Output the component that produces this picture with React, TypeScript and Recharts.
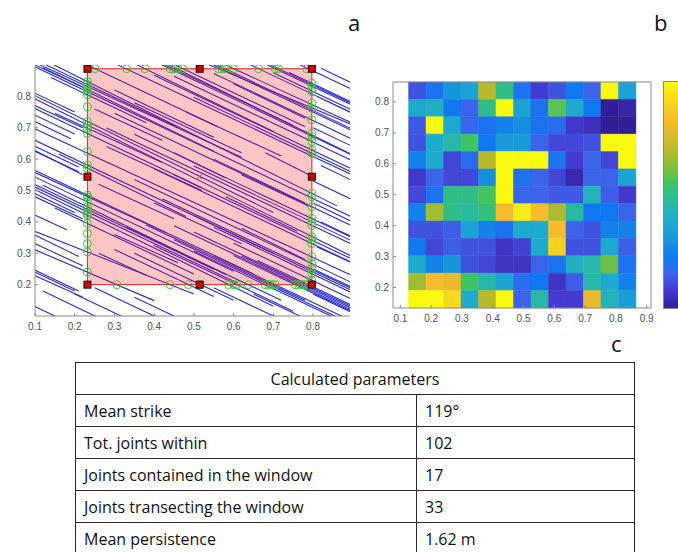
import React from 'react'
import { ScatterChart, Scatter, XAxis, YAxis, ReferenceLine, ReferenceArea } from 'recharts'

const AXIS = '#8a8a8a'
const TICK_TEXT = '#505050'
const JOINT_BLUE = '#2b2bd4'
const TICK_FONT = '"Liberation Sans", Arial, sans-serif'
const LABEL_FONT = '"Open Sans", "Noto Sans", sans-serif'

// ---- panel a: joint traces and sampling window ----
const A_X_TICKS = [0.1, 0.2, 0.3, 0.4, 0.5, 0.6, 0.7, 0.8]
const A_Y_TICKS = [0.2, 0.3, 0.4, 0.5, 0.6, 0.7, 0.8]

// joint traces as [x1, y1, x2, y2]
const JOINTS: number[][] = [
  // crossing the left side of the window
  [0.05, 0.962, 0.86, 0.451],
  [0.1, 0.917, 0.46, 0.701],
  [0.06, 0.931, 0.62, 0.606],
  [0.12, 0.891, 0.55, 0.625],
  [0.02, 0.942, 0.9, 0.414],
  [0.14, 0.86, 0.38, 0.716],
  [0.1, 0.802, 0.7, 0.43],
  [0.0, 0.855, 0.95, 0.257],
  [0.15, 0.746, 0.42, 0.589],
  [0.08, 0.773, 0.52, 0.509],
  [0.05, 0.726, 0.92, 0.216],
  [0.1, 0.66, 0.95, 0.15],
  [0.16, 0.616, 0.48, 0.417],
  [0.05, 0.594, 0.65, 0.234],
  [0.1, 0.557, 0.43, 0.365],
  [0.0, 0.603, 0.6, 0.243],
  [0.12, 0.517, 0.58, 0.232],
  [0.06, 0.543, 0.55, 0.249],
  [0.1, 0.511, 0.61, 0.205],
  [0.02, 0.552, 0.7, 0.131],
  [0.15, 0.444, 0.5, 0.234],
  [0.08, 0.38, 0.5, 0.17],
  [0.1, 0.311, 0.4, 0.149],
  // entering through the top side
  [0.15, 0.949, 0.56, 0.703],
  [0.25, 0.935, 0.9, 0.549],
  [0.3, 0.936, 0.7, 0.688],
  [0.4, 0.912, 0.92, 0.6],
  [0.42, 0.905, 0.75, 0.707],
  [0.43, 0.905, 0.95, 0.582],
  [0.45, 0.902, 0.78, 0.703],
  [0.53, 0.905, 0.95, 0.682],
  [0.55, 0.9, 0.95, 0.66],
  [0.56, 0.899, 0.93, 0.677],
  [0.58, 0.9, 0.95, 0.685],
  [0.64, 0.902, 0.95, 0.716],
  [0.68, 0.903, 0.95, 0.741],
  [0.69, 0.902, 0.95, 0.746],
  [0.76, 0.905, 0.95, 0.791],
  // leaving through the right side
  [0.55, 0.873, 0.95, 0.633],
  [0.45, 0.864, 0.92, 0.582],
  [0.4, 0.867, 0.9, 0.567],
  [0.3, 0.746, 0.95, 0.356],
  [0.35, 0.679, 0.93, 0.331],
  [0.5, 0.578, 0.9, 0.338],
  [0.28, 0.699, 0.94, 0.303],
  [0.45, 0.55, 0.92, 0.268],
  [0.4, 0.569, 0.93, 0.251],
  [0.35, 0.535, 0.95, 0.175],
  [0.42, 0.474, 0.9, 0.186],
  [0.55, 0.383, 0.93, 0.155],
  [0.6, 0.332, 0.95, 0.122],
  [0.7, 0.875, 0.95, 0.725],
  [0.74, 0.876, 0.95, 0.75],
  [0.5, 0.797, 0.93, 0.539],
  // leaving through the bottom side
  [0.3, 0.312, 0.55, 0.162],
  [0.35, 0.3, 0.6, 0.15],
  [0.4, 0.325, 0.75, 0.115],
  [0.33, 0.384, 0.72, 0.15],
  [0.5, 0.307, 0.85, 0.097],
  [0.45, 0.343, 0.9, 0.073],
  [0.38, 0.39, 0.78, 0.15],
  [0.55, 0.293, 0.95, 0.053],
  [0.6, 0.293, 0.95, 0.083],
  [0.45, 0.388, 0.9, 0.118],
  [0.62, 0.291, 0.95, 0.093],
  [0.5, 0.368, 0.95, 0.098],
  [0.66, 0.277, 0.95, 0.103],
  // contained in the window
  [0.3, 0.82, 0.55, 0.67],
  [0.28, 0.64, 0.52, 0.5],
  [0.35, 0.78, 0.62, 0.62],
  [0.48, 0.75, 0.72, 0.61],
  [0.26, 0.52, 0.45, 0.41],
  [0.55, 0.6, 0.78, 0.46],
  [0.62, 0.55, 0.79, 0.45],
  [0.3, 0.36, 0.46, 0.27],
  [0.5, 0.42, 0.7, 0.3],
  [0.6, 0.84, 0.78, 0.73],
  [0.25, 0.76, 0.42, 0.66],
  [0.4, 0.46, 0.62, 0.33],
  [0.58, 0.48, 0.76, 0.37],
  [0.68, 0.62, 0.79, 0.55],
  [0.26, 0.3, 0.38, 0.23],
  [0.62, 0.38, 0.78, 0.28],
  [0.45, 0.62, 0.58, 0.54],
  // outside the window
  [0.0, 0.87, 0.2, 0.75],
  [0.05, 0.8, 0.22, 0.7],
  [0.1, 0.74, 0.2, 0.68],
  [0.0, 0.7, 0.21, 0.575],
  [0.08, 0.64, 0.22, 0.55],
  [0.0, 0.55, 0.2, 0.43],
  [0.1, 0.48, 0.22, 0.41],
  [0.0, 0.42, 0.21, 0.29],
  [0.05, 0.36, 0.22, 0.26],
  [0.0, 0.3, 0.2, 0.18],
  [0.08, 0.24, 0.22, 0.16],
  [0.0, 0.19, 0.2, 0.07],
  [0.12, 0.18, 0.3, 0.07],
  [0.2, 0.17, 0.45, 0.02],
  [0.25, 0.19, 0.5, 0.04],
  [0.55, 0.19, 0.8, 0.04],
  [0.82, 0.89, 0.95, 0.81],
  [0.8, 0.7, 0.95, 0.61],
  [0.82, 0.58, 0.95, 0.5],
  [0.8, 0.46, 0.95, 0.37],
  [0.81, 0.32, 0.95, 0.24],
  [0.8, 0.17, 0.95, 0.08],
  [0.0, 0.78, 0.19, 0.665],
  [0.04, 0.66, 0.21, 0.56],
  [0.0, 0.48, 0.18, 0.375],
  [0.06, 0.27, 0.21, 0.18],
  [0.1, 0.9, 0.22, 0.83],
  [0.81, 0.8, 0.95, 0.715],
  [0.8, 0.53, 0.95, 0.44],
  [0.82, 0.4, 0.95, 0.32],
  [0.8, 0.25, 0.95, 0.16],
  [0.35, 0.16, 0.6, 0.01],
  [0.65, 0.17, 0.9, 0.02],
]

const WIN_X = [0.232, 0.797]
const WIN_Y = [0.2, 0.888]
const WIN_MID_X = 0.5145
const WIN_MID_Y = 0.544

// intersections of traces with the window sides
const TOP_HITS = [0.251, 0.331, 0.377, 0.44, 0.448, 0.457, 0.472, 0.562, 0.57, 0.579, 0.6, 0.663, 0.705, 0.713, 0.784]
const BOTTOM_HITS = [0.306, 0.44, 0.486, 0.516, 0.587, 0.6, 0.608, 0.637, 0.679, 0.688, 0.696, 0.705, 0.755, 0.763, 0.772, 0.78, 0.789]
const LEFT_HITS = [0.847, 0.838, 0.831, 0.822, 0.815, 0.805, 0.767, 0.72, 0.709, 0.698, 0.682, 0.624, 0.581, 0.571, 0.485, 0.48, 0.464, 0.448, 0.437, 0.427, 0.421, 0.395, 0.363, 0.331, 0.304, 0.24]
const RIGHT_HITS = [0.842, 0.826, 0.815, 0.778, 0.762, 0.725, 0.682, 0.672, 0.656, 0.629, 0.619, 0.491, 0.48, 0.448, 0.411, 0.4, 0.389, 0.352, 0.342, 0.331, 0.288, 0.267, 0.251, 0.235, 0.214]

// ---- panel b: density grid ----
const B_X_TICKS = [0.1, 0.2, 0.3, 0.4, 0.5, 0.6, 0.7, 0.8, 0.9]
const B_Y_TICKS = [0.2, 0.3, 0.4, 0.5, 0.6, 0.7, 0.8]
const GRID_X0 = 0.1266
const GRID_Y_TOP = 0.8645
const CELL_W = 0.0568
const CELL_H = 0.05623

// normalised intensity, rows from top to bottom
const DENSITY: number[][] = [
  [0.12, 0.2, 0.3, 0.35, 0.7, 0.5, 0.2, 0.08, 0.12, 0.22, 0.15, 1.0, 0.35],
  [0.38, 0.4, 0.22, 0.15, 0.5, 1.0, 0.35, 0.2, 0.58, 0.38, 0.22, 0.0, 0.02],
  [0.13, 1.0, 0.37, 0.16, 0.2, 0.25, 0.28, 0.2, 0.18, 0.07, 0.05, 0.0, 0.0],
  [0.12, 0.38, 0.45, 0.55, 0.22, 0.32, 0.32, 0.15, 0.1, 0.1, 0.12, 1.0, 1.0],
  [0.25, 0.38, 0.1, 0.18, 0.7, 1.0, 1.0, 1.0, 0.2, 0.08, 0.15, 0.1, 1.0],
  [0.07, 0.15, 0.1, 0.1, 0.28, 1.0, 0.2, 0.15, 0.1, 0.03, 0.15, 0.15, 0.35],
  [0.1, 0.2, 0.5, 0.5, 0.56, 1.0, 0.16, 0.15, 0.13, 0.13, 0.42, 0.14, 0.07],
  [0.25, 0.66, 0.5, 0.47, 0.52, 0.83, 0.97, 0.83, 0.68, 0.46, 0.22, 0.22, 0.15],
  [0.12, 0.12, 0.14, 0.35, 0.25, 0.2, 0.38, 0.38, 0.83, 0.15, 0.12, 0.25, 0.25],
  [0.22, 0.1, 0.14, 0.12, 0.12, 0.06, 0.09, 0.38, 0.9, 0.12, 0.12, 0.37, 0.14],
  [0.38, 0.25, 0.3, 0.12, 0.1, 0.06, 0.06, 0.15, 0.2, 0.4, 0.45, 0.6, 0.2],
  [0.66, 0.83, 0.8, 0.55, 0.45, 0.35, 0.18, 0.22, 0.06, 0.14, 0.45, 0.38, 0.25],
  [1.0, 1.0, 0.92, 0.38, 0.7, 1.0, 0.15, 0.46, 0.08, 0.08, 0.8, 0.42, 0.33],
]

// parula-like colour ramp
const RAMP: [number, number[]][] = [
  [0.0, [50, 30, 150]],
  [0.08, [68, 60, 210]],
  [0.15, [60, 100, 235]],
  [0.22, [16, 120, 240]],
  [0.3, [24, 150, 220]],
  [0.38, [30, 170, 205]],
  [0.46, [40, 185, 165]],
  [0.55, [60, 195, 100]],
  [0.62, [130, 190, 60]],
  [0.7, [185, 185, 45]],
  [0.82, [245, 185, 45]],
  [0.92, [248, 215, 30]],
  [1.0, [248, 248, 16]],
]

function rampColor(v: number): string {
  for (let i = 1; i < RAMP.length; i++) {
    const [t1, c1] = RAMP[i]
    const [t0, c0] = RAMP[i - 1]
    if (v <= t1) {
      const f = (v - t0) / (t1 - t0)
      const c = c0.map((ch, k) => Math.round(ch + (c1[k] - ch) * f))
      return `rgb(${c[0]}, ${c[1]}, ${c[2]})`
    }
  }
  const last = RAMP[RAMP.length - 1][1]
  return `rgb(${last[0]}, ${last[1]}, ${last[2]})`
}

// ---- panel c ----
const PARAM_NAMES = ['Mean strike', 'Tot. joints within', 'Joints contained in the window', 'Joints transecting the window', 'Mean persistence']
const PARAM_VALUES = ['119°', '102', '17', '33', '1.62 m']

function BottomTick(props: any) {
  const { x, y, payload } = props
  return (
    <g>
      <line x1={x} x2={x} y1={y} y2={y - 3} stroke={AXIS} />
      <text x={x} y={y + 14} textAnchor="middle" fontSize={10} fontFamily={TICK_FONT} fill={TICK_TEXT}>
        {payload.value}
      </text>
    </g>
  )
}

function LeftTick(props: any) {
  const { x, y, payload } = props
  return (
    <g>
      <line x1={x} x2={x + 3} y1={y} y2={y} stroke={AXIS} />
      <text x={x - 4} y={y + 3.5} textAnchor="end" fontSize={10} fontFamily={TICK_FONT} fill={TICK_TEXT}>
        {payload.value}
      </text>
    </g>
  )
}

const hitCircle = (p: any) => (
  <circle cx={p.cx} cy={p.cy} r={4} fill="none" stroke="#33cc33" strokeWidth={1} />
)
const cornerSquare = (p: any) => (
  <rect x={p.cx - 3.5} y={p.cy - 3.5} width={7} height={7} fill="#d10000" stroke="#111" strokeWidth={1} />
)
const centreCross = (p: any) => (
  <g stroke="#ee3333" strokeWidth={1}>
    <line x1={p.cx - 2.5} y1={p.cy - 2.5} x2={p.cx + 2.5} y2={p.cy + 2.5} />
    <line x1={p.cx - 2.5} y1={p.cy + 2.5} x2={p.cx + 2.5} y2={p.cy - 2.5} />
  </g>
)

function JointMap() {
  const hits = [
    ...TOP_HITS.map((x) => ({ x, y: WIN_Y[1] })),
    ...BOTTOM_HITS.map((x) => ({ x, y: WIN_Y[0] })),
    ...LEFT_HITS.map((y) => ({ x: WIN_X[0], y })),
    ...RIGHT_HITS.map((y) => ({ x: WIN_X[1], y })),
  ]
  const corners = [
    { x: WIN_X[0], y: WIN_Y[0] },
    { x: WIN_MID_X, y: WIN_Y[0] },
    { x: WIN_X[1], y: WIN_Y[0] },
    { x: WIN_X[0], y: WIN_MID_Y },
    { x: WIN_X[1], y: WIN_MID_Y },
    { x: WIN_X[0], y: WIN_Y[1] },
    { x: WIN_MID_X, y: WIN_Y[1] },
    { x: WIN_X[1], y: WIN_Y[1] },
  ]
  return (
    <ScatterChart width={360} height={290} margin={{ top: 15, right: 10, bottom: 0, left: 0 }}>
      <XAxis
        type="number"
        dataKey="x"
        domain={[0.1, 0.893]}
        allowDataOverflow
        ticks={A_X_TICKS}
        tick={BottomTick}
        tickLine={false}
        tickSize={0}
        tickMargin={0}
        height={24}
        stroke={AXIS}
        interval={0}
      />
      <YAxis
        type="number"
        dataKey="y"
        domain={[0.1, 0.9]}
        allowDataOverflow
        ticks={A_Y_TICKS}
        tick={LeftTick}
        tickLine={false}
        tickSize={0}
        tickMargin={0}
        width={35}
        stroke={AXIS}
        interval={0}
      />
      {JOINTS.map((j, i) => (
        <ReferenceLine
          key={`joint-${i}`}
          segment={[
            { x: j[0], y: j[1] },
            { x: j[2], y: j[3] },
          ]}
          stroke={JOINT_BLUE}
          strokeWidth={1.1}
          ifOverflow="hidden"
          zIndex={100}
        />
      ))}
      <ReferenceArea
        x1={WIN_X[0]}
        x2={WIN_X[1]}
        y1={WIN_Y[0]}
        y2={WIN_Y[1]}
        fill="#ff0000"
        fillOpacity={0.23}
        stroke="#e52222"
        strokeWidth={1}
        ifOverflow="visible"
        zIndex={200}
      />
      <Scatter data={hits} shape={hitCircle} isAnimationActive={false} zIndex={300} />
      <Scatter data={corners} shape={cornerSquare} isAnimationActive={false} zIndex={310} />
      <Scatter data={[{ x: WIN_MID_X, y: WIN_MID_Y }]} shape={centreCross} isAnimationActive={false} zIndex={310} />
    </ScatterChart>
  )
}

function DensityGrid() {
  const cells: { x1: number; x2: number; y1: number; y2: number; v: number }[] = []
  DENSITY.forEach((row, r) => {
    row.forEach((v, c) => {
      const x1 = GRID_X0 + c * CELL_W
      const y2 = GRID_Y_TOP - r * CELL_H
      cells.push({ x1, x2: x1 + CELL_W, y1: y2 - CELL_H, y2, v })
    })
  })
  return (
    <ScatterChart width={300} height={264} margin={{ top: 16, right: 6, bottom: 0, left: 0 }}>
      <XAxis
        type="number"
        dataKey="x"
        domain={[0.076, 0.914]}
        allowDataOverflow
        ticks={B_X_TICKS}
        tick={BottomTick}
        tickLine={false}
        tickSize={0}
        tickMargin={0}
        height={22}
        axisLine={false}
        interval={0}
      />
      <YAxis
        type="number"
        dataKey="y"
        domain={[0.1335, 0.8645]}
        allowDataOverflow
        ticks={B_Y_TICKS}
        tick={LeftTick}
        tickLine={false}
        tickSize={0}
        tickMargin={0}
        width={36}
        axisLine={false}
        interval={0}
      />
      {cells.map((c, i) => (
        <ReferenceArea
          key={`cell-${i}`}
          x1={c.x1}
          x2={c.x2}
          y1={c.y1}
          y2={c.y2}
          fill={rampColor(c.v)}
          fillOpacity={1}
          stroke={rampColor(c.v)}
          strokeWidth={0.5}
          ifOverflow="visible"
        />
      ))}
      <ReferenceArea
        x1={0.076}
        x2={0.914}
        y1={0.1335}
        y2={0.8645}
        fill="none"
        stroke={AXIS}
        strokeWidth={1}
        ifOverflow="visible"
      />
    </ScatterChart>
  )
}

function ColorBar() {
  const stops = RAMP.map(([t, c]) => `rgb(${c[0]}, ${c[1]}, ${c[2]}) ${t * 100}%`).join(', ')
  return (
    <div
      style={{
        position: 'absolute',
        left: 663,
        top: 81,
        width: 14,
        height: 226,
        border: `1px solid ${AXIS}`,
        background: `linear-gradient(to top, ${stops})`,
      }}
    />
  )
}

function ParamTable() {
  const cell: React.CSSProperties = {
    border: '1.5px solid #2a2a2a',
    height: 32,
    padding: '0 0 0 8px',
    fontSize: 16,
    color: '#111',
    boxSizing: 'border-box',
  }
  return (
    <table
      style={{
        position: 'absolute',
        left: 75,
        top: 362,
        width: 559,
        borderCollapse: 'collapse',
        fontFamily: LABEL_FONT,
        tableLayout: 'fixed',
      }}
    >
      <colgroup>
        <col style={{ width: 341 }} />
        <col style={{ width: 218 }} />
      </colgroup>
      <tbody>
        <tr>
          <td colSpan={2} style={{ ...cell, textAlign: 'center', padding: 0 }}>
            Calculated parameters
          </td>
        </tr>
        {PARAM_NAMES.map((name, i) => (
          <tr key={name}>
            <td style={cell}>{name}</td>
            <td style={cell}>{PARAM_VALUES[i]}</td>
          </tr>
        ))}
      </tbody>
    </table>
  )
}

const panelLabel = (left: number, top: number): React.CSSProperties => ({
  position: 'absolute',
  left,
  top,
  fontFamily: LABEL_FONT,
  fontSize: 22,
  lineHeight: '22px',
  color: '#111',
})

export default function App() {
  return (
    <div
      style={{
        position: 'absolute',
        left: 0,
        top: 0,
        width: 678,
        height: 552,
        overflow: 'hidden',
        background: '#fff',
      }}
    >
      <div style={panelLabel(348, 11)}>a</div>
      <div style={panelLabel(654, 11)}>b</div>
      <div style={panelLabel(611, 332)}>c</div>
      <div style={{ position: 'absolute', left: 0, top: 50 }}>
        <JointMap />
      </div>
      <div style={{ position: 'absolute', left: 357, top: 66 }}>
        <DensityGrid />
      </div>
      <ColorBar />
      <ParamTable />
    </div>
  )
}
